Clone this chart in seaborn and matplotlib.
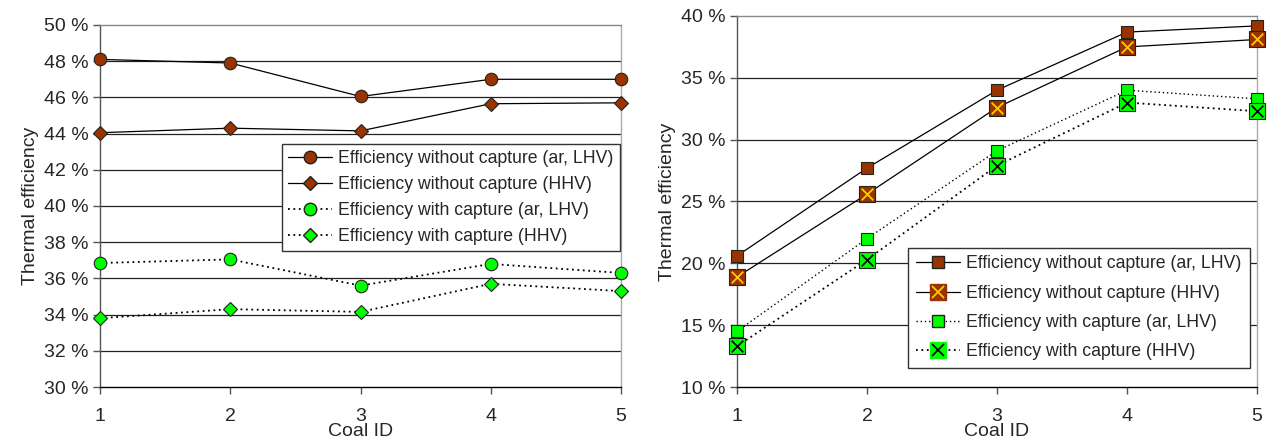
import matplotlib
matplotlib.use("Agg")
import matplotlib.pyplot as plt
import seaborn as sns
import pandas as pd
from matplotlib.lines import Line2D
from matplotlib.legend_handler import HandlerTuple
from matplotlib.ticker import FuncFormatter

coal_id = [1, 2, 3, 4, 5]

# left panel (%)
left_no_capture_lhv = [48.1, 47.9, 46.05, 47.0, 47.0]
left_no_capture_hhv = [44.05, 44.3, 44.15, 45.65, 45.7]
left_capture_lhv = [36.85, 37.05, 35.6, 36.8, 36.3]
left_capture_hhv = [33.8, 34.3, 34.15, 35.7, 35.3]

# right panel (%)
right_no_capture_lhv = [20.6, 27.7, 34.0, 38.7, 39.2]
right_no_capture_hhv = [18.9, 25.6, 32.6, 37.5, 38.1]
right_capture_lhv = [14.5, 22.0, 29.1, 34.0, 33.3]
right_capture_hhv = [13.3, 20.3, 27.9, 33.0, 32.3]

labels = ["Efficiency without capture (ar, LHV)",
          "Efficiency without capture (HHV)",
          "Efficiency with capture (ar, LHV)",
          "Efficiency with capture (HHV)"]

BROWN = "#993300"
GREEN = "#00ff00"

sns.set_style("white")
plt.rcParams["font.family"] = ["Liberation Sans", "DejaVu Sans"]
plt.rcParams["font.size"] = 13

fig = plt.figure(figsize=(12.67, 4.41), dpi=100)
ax1 = fig.add_axes([100 / 1267, 1 - 387 / 441, 521 / 1267, 362 / 441])
ax2 = fig.add_axes([737 / 1267, 1 - 387 / 441, 520 / 1267, 371 / 441])


def style_axes(ax, lo, hi, step):
    ax.set_xlim(1, 5)
    ax.set_ylim(lo, hi)
    ax.set_xticks(coal_id)
    ax.set_yticks(range(lo, hi + 1, step))
    ax.yaxis.set_major_formatter(FuncFormatter(lambda v, p: f"{v:.0f} %"))
    for v in range(lo + step, hi, step):
        ax.axhline(v, color="#222222", lw=0.9, zorder=0)
    ax.spines["left"].set_color("#555555")
    ax.spines["bottom"].set_color("black")
    ax.spines["top"].set_color("#888888")
    ax.spines["right"].set_color("#aaaaaa")
    for s in ax.spines.values():
        s.set_linewidth(1.0)
    ax.tick_params(axis="both", direction="out", length=5, width=1,
                   color="#555555", labelsize=14, pad=3, left=True, bottom=True)
    ax.tick_params(axis="x", pad=10)
    ax.set_xlabel("Coal ID", fontsize=14, labelpad=-1)
    ax.set_ylabel("Thermal efficiency", fontsize=14, labelpad=4)


def draw(ax, y, ls, face, marker, ms, lw):
    df = pd.DataFrame({"coal": coal_id, "eff": y})
    sns.lineplot(data=df, x="coal", y="eff", ax=ax, color="black", lw=lw,
                 linestyle=ls, marker=marker, markersize=ms,
                 markerfacecolor=face, markeredgecolor="#222222",
                 markeredgewidth=0.8, clip_on=False, zorder=3)


# left panel
draw(ax1, left_no_capture_lhv, "-", BROWN, "o", 9, 0.9)
draw(ax1, left_no_capture_hhv, "-", BROWN, "D", 7, 0.9)
draw(ax1, left_capture_lhv, (0, (1, 2)), GREEN, "o", 9, 1.3)
draw(ax1, left_capture_hhv, (0, (1, 2)), GREEN, "D", 7, 1.3)
style_axes(ax1, 30, 50, 2)

h1 = [Line2D([], [], color="black", lw=0.9, marker="o", ms=9, mfc=BROWN, mec="#222222"),
      Line2D([], [], color="black", lw=0.9, marker="D", ms=7, mfc=BROWN, mec="#222222"),
      Line2D([], [], color="black", lw=1.3, ls=(0, (1, 2)), marker="o", ms=9, mfc=GREEN, mec="#222222"),
      Line2D([], [], color="black", lw=1.3, ls=(0, (1, 2)), marker="D", ms=7, mfc=GREEN, mec="#222222")]
leg1 = ax1.legend(h1, labels, loc="upper left", bbox_to_anchor=(0.349, 0.671),
                  frameon=True, fancybox=False, framealpha=1, edgecolor="#333333",
                  fontsize=12.7, handlelength=2.5, handletextpad=0.35,
                  labelspacing=0.5, borderpad=0.35, borderaxespad=0)
leg1.get_frame().set_linewidth(1.0)

# right panel
draw(ax2, right_no_capture_lhv, "-", BROWN, "s", 9, 0.9)
draw(ax2, right_no_capture_hhv, "-", BROWN, "s", 11, 0.9)
ax2.scatter(coal_id, right_no_capture_hhv, marker="x", s=70, color="#ffcc00",
            linewidths=1.3, zorder=4, clip_on=False)
draw(ax2, right_capture_lhv, (0, (1, 2)), GREEN, "s", 9, 1.0)
draw(ax2, right_capture_hhv, (0, (1, 2)), GREEN, "s", 11, 1.3)
ax2.scatter(coal_id, right_capture_hhv, marker="x", s=70, color="black",
            linewidths=1.2, zorder=4, clip_on=False)
style_axes(ax2, 10, 40, 5)

sq1 = Line2D([], [], color="black", lw=0.9, marker="s", ms=9, mfc=BROWN, mec="#222222")
sq2 = Line2D([], [], color="black", lw=0.9, marker="s", ms=11, mfc=BROWN, mec=BROWN)
x2 = Line2D([], [], ls="none", marker="x", ms=9, mec="#ffcc00", mew=1.3)
sq3 = Line2D([], [], color="black", lw=1.0, ls=(0, (1, 2)), marker="s", ms=9, mfc=GREEN, mec="#222222")
sq4 = Line2D([], [], color="black", lw=1.3, ls=(0, (1, 2)), marker="s", ms=11, mfc=GREEN, mec=GREEN)
x4 = Line2D([], [], ls="none", marker="x", ms=9, mec="black", mew=1.2)
leg2 = ax2.legend([sq1, (sq2, x2), sq3, (sq4, x4)], labels, loc="upper left",
                  bbox_to_anchor=(0.329, 0.376),
                  handler_map={tuple: HandlerTuple(ndivide=1, pad=0)},
                  frameon=True, fancybox=False, framealpha=1, edgecolor="#333333",
                  fontsize=12.7, handlelength=2.5, handletextpad=0.35,
                  labelspacing=0.7, borderpad=0.45, borderaxespad=0)
leg2.get_frame().set_linewidth(1.0)

fig.savefig("out.png", dpi=100)
